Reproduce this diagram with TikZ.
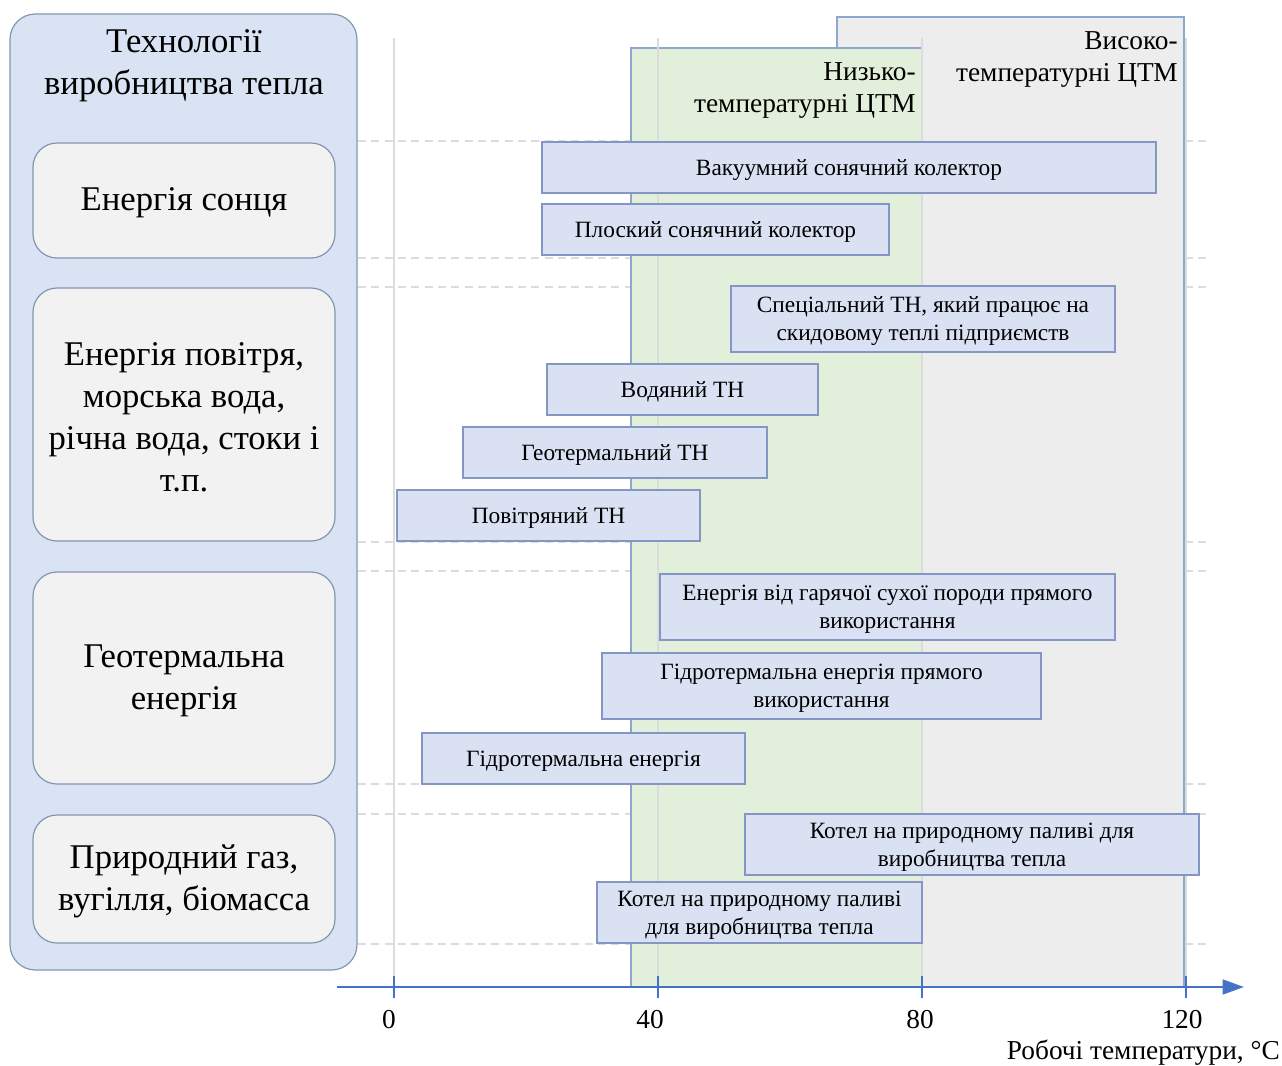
\documentclass[tikz,border=0pt]{standalone}
\usepackage{fontspec}
\setmainfont{Liberation Serif}
\usetikzlibrary{arrows.meta}
\definecolor{panelfill}{HTML}{DAE3F3}
\definecolor{panelborder}{HTML}{8497B0}
\definecolor{srcfill}{HTML}{F2F2F2}
\definecolor{barfill}{HTML}{D9E1F2}
\definecolor{barborder}{HTML}{8497C4}
\definecolor{greenfill}{HTML}{E2EFDA}
\definecolor{grayfill}{HTML}{EDEDED}
\definecolor{regborder}{HTML}{8FA6CF}
\definecolor{axisblue}{HTML}{4472C4}
\definecolor{gridgray}{HTML}{DCDCDC}
% box node plus its text node, shifted slightly down
\newcommand\pbox[7]{\node[#5,minimum width={(#3-#1)*0.75pt},minimum height={(#4-#2)*0.75pt}] (#6) at ({(#1+#3)/2},{(#2+#4)/2}) {};
  \node[#5 text] (#6t) at ([yshift=-1.8pt]#6.center) {#7};}
\begin{document}
\begin{tikzpicture}[x=0.75pt,y=-0.75pt,
  panel/.style={draw=panelborder,fill=panelfill,line width=0.9pt,rounded corners=19pt,inner sep=0pt,outer sep=0pt},
  panel text/.style={inner sep=0pt},
  srcbox/.style={draw=panelborder,fill=srcfill,line width=0.9pt,rounded corners=18pt,inner sep=0pt,outer sep=0pt},
  srcbox text/.style={align=center,inner sep=0pt,font=\fontsize{26}{31.5}\selectfont},
  barbox/.style={draw=barborder,fill=barfill,line width=0.9pt,inner sep=0pt,outer sep=0pt},
  barbox text/.style={align=center,inner sep=0pt,font=\fontsize{17.5}{21}\selectfont},
  greenreg/.style={draw=regborder,fill=greenfill,line width=0.9pt,inner sep=0pt,outer sep=0pt},
  greenreg text/.style={inner sep=0pt},
  grayreg/.style={draw=regborder,fill=grayfill,line width=0.9pt,inner sep=0pt,outer sep=0pt},
  grayreg text/.style={inner sep=0pt},
  reglabel/.style={align=right,inner sep=0pt,font=\fontsize{20.5}{24}\selectfont},
  gridv/.style={draw=gridgray,line width=1pt},
  gridh/.style={draw=gridgray,line width=0.8pt,dash pattern=on 6pt off 4pt},
  axisline/.style={draw=axisblue,line width=1.9pt},
  ticklab/.style={font=\fontsize{20.5}{23}\selectfont,inner sep=0pt}
]
\useasboundingbox (0,0) rectangle (1282,1066);
\fill[white] (0,0) rectangle (1282,1066);

% dashed horizontal guides (behind regions)
\foreach \yy in {141,258,287,542,571,784,814,944}
  \draw[gridh] (358,\yy) -- (1207,\yy);

% temperature regions
\pbox{837}{17}{1184}{987}{grayreg}{high}{}
\pbox{631}{48}{922}{987}{greenreg}{low}{}
\node[reglabel,anchor=east] (highlab) at (1178,60) {Високо-\\температурні ЦТМ};
\node[reglabel,anchor=east] (lowlab) at (916,91) {Низько-\\температурні ЦТМ};

% vertical grid lines
\foreach \xx in {394,658,922,1186}
  \draw[gridv] (\xx,38) -- (\xx,987);

% left panel
\pbox{10}{14}{357}{970}{panel}{panel}{}
\node[align=center,inner sep=0pt,font=\fontsize{26}{31.5}\selectfont] (title) at (184,66) {Технології\\виробництва тепла};
\pbox{33}{143}{335}{258}{srcbox}{sun}{Енергія сонця}
\pbox{33}{288}{335}{541}{srcbox}{air}{Енергія повітря,\\морська вода,\\річна вода, стоки і\\т.п.}
\pbox{33}{572}{335}{784}{srcbox}{geo}{Геотермальна\\енергія}
\pbox{33}{815}{335}{943}{srcbox}{fuel}{Природний газ,\\вугілля, біомасса}

% technology bars
\pbox{542}{142}{1156}{193}{barbox}{b1}{Вакуумний сонячний колектор}
\pbox{542}{204}{889}{255}{barbox}{b2}{Плоский сонячний колектор}
\pbox{731}{286}{1115}{352}{barbox}{b3}{Спеціальний ТН, який працює на\\скидовому теплі підприємств}
\pbox{547}{364}{818}{415}{barbox}{b4}{Водяний ТН}
\pbox{463}{427}{767}{478}{barbox}{b5}{Геотермальний ТН}
\pbox{397}{490}{700}{541}{barbox}{b6}{Повітряний ТН}
\pbox{660}{574}{1115}{640}{barbox}{b7}{Енергія від гарячої сухої породи прямого\\використання}
\pbox{602}{653}{1041}{719}{barbox}{b8}{Гідротермальна енергія прямого\\використання}
\pbox{422}{733}{745}{784}{barbox}{b9}{Гідротермальна енергія}
\pbox{745}{814}{1199}{875}{barbox}{b10}{Котел на природному паливі для\\виробництва тепла}
\pbox{597}{882}{922}{943}{barbox}{b11}{Котел на природному паливі\\для виробництва тепла}

% axis
\coordinate (axs) at (337,987);
\coordinate (axe) at (1244,987);
\draw[axisline,-{Triangle[length=16pt,width=11pt]}] (axs) -- (axe);
\foreach \xx in {394,658,922,1186}
  \draw[draw=axisblue,line width=1.4pt] (\xx,976) -- (\xx,998);
\node[ticklab] (t0) at (389,1020) {0};
\node[ticklab] (t40) at (650,1020) {40};
\node[ticklab] (t80) at (920,1020) {80};
\node[ticklab] (t120) at (1182,1020) {120};
\node[ticklab,anchor=east] (axtitle) at (1280,1053) {Робочі температури, °C};
\end{tikzpicture}
\end{document}
